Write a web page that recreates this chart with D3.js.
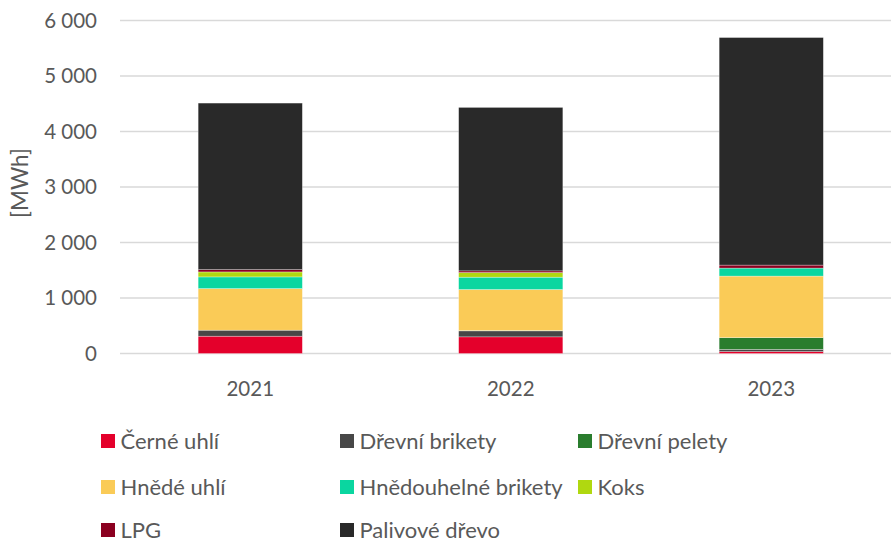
<!DOCTYPE html>
<html>
<head>
<meta charset="utf-8">
<script src="https://cdn.jsdelivr.net/npm/d3@7"></script>
<style>
  body { margin: 0; background: #fff; }
  text { font-family: Lato, "Noto Sans", sans-serif; fill: #595959; }
</style>
</head>
<body>
<svg id="chart" width="891" height="543"></svg>
<script>
const years = ["2021", "2022", "2023"];
const fuels = ["Černé uhlí", "Dřevní brikety", "Dřevní pelety", "Hnědé uhlí",
  "Hnědouhelné brikety", "Koks", "LPG", "Palivové dřevo"];
const cerneUhli = [312, 300, 35];
const drevniBrikety = [108, 108, 40];
const drevniPelety = [0, 5, 210];
const hnedeUhli = [750, 740, 1110];
const hnedouhelneBrikety = [210, 222, 144];
const koks = [90, 84, 0];
const lpg = [42, 30, 54];
const palivoveDrevo = [3000, 2945, 4100];
const yTicks = [0, 1000, 2000, 3000, 4000, 5000, 6000];

const seriesValues = [cerneUhli, drevniBrikety, drevniPelety, hnedeUhli,
  hnedouhelneBrikety, koks, lpg, palivoveDrevo];

const colors = ["#e4002b", "#474747", "#2a7d2e", "#facb57",
  "#0ad6a0", "#b0d810", "#8b0020", "#292929"];

const rows = years.map(function(y, i) {
  const r = { year: y };
  fuels.forEach((f, j) => (r[f] = seriesValues[j][i]));
  return r;
});

const svg = d3.select("#chart");

const x = d3.scaleBand().domain(years).range([120, 901.5]).paddingInner(0.6).paddingOuter(0.3);
const y = d3.scaleLinear().domain([0, 6000]).range([353.5, 20.5]);
const color = d3.scaleOrdinal().domain(fuels).range(colors);
const fmt = v => d3.format(",")(v).replace(/,/g, "\u00a0");

// gridlines
svg.append("g")
  .selectAll("line")
  .data(yTicks)
  .enter()
  .append("line")
  .attr("x1", 120)
  .attr("x2", 891)
  .attr("y1", d => y(d))
  .attr("y2", d => y(d))
  .attr("stroke", "#d9d9d9")
  .attr("stroke-width", 1.3);

// y axis labels
const yAxis = svg.append("g")
  .attr("transform", "translate(97,0)")
  .call(d3.axisLeft(y).tickValues(yTicks).tickFormat(fmt).tickSize(0).tickPadding(0));
yAxis.select(".domain").remove();
yAxis.selectAll("text").attr("font-size", 20.5).attr("fill", "#595959")
  .attr("font-family", "Lato, sans-serif");

svg.append("text")
  .attr("transform", "translate(28,183) rotate(-90)")
  .attr("text-anchor", "middle")
  .attr("font-size", 22.5)
  .text("[MWh]");

// stacked bars
const stacked = d3.stack().keys(fuels)(rows);
svg.append("g")
  .selectAll("g")
  .data(stacked)
  .enter()
  .append("g")
  .attr("fill", d => color(d.key))
  .selectAll("rect")
  .data(d => d)
  .enter()
  .append("rect")
  .attr("x", d => x(d.data.year))
  .attr("width", x.bandwidth())
  .attr("y", d => y(d[1]))
  .attr("height", d => Math.max(0, y(d[0]) - y(d[1])))
  .attr("stroke", "rgba(255,255,255,0.5)")
  .attr("stroke-width", 0.6);

// x axis labels
const xAxis = svg.append("g")
  .attr("transform", "translate(0,381)")
  .call(d3.axisBottom(x).tickSize(0).tickPadding(0));
xAxis.select(".domain").remove();
xAxis.selectAll("text").attr("font-size", 20.5).attr("fill", "#595959")
  .attr("font-family", "Lato, sans-serif");

// legend
const legendX = [101, 340, 578];
const legendY = [441, 487, 530];
const legend = svg.append("g")
  .selectAll("g")
  .data(fuels)
  .enter()
  .append("g")
  .attr("transform", (d, i) => "translate(" + legendX[i % 3] + "," + legendY[Math.floor(i / 3)] + ")");
legend.append("rect")
  .attr("x", 0)
  .attr("y", -7)
  .attr("width", 14)
  .attr("height", 14)
  .attr("fill", d => color(d));
legend.append("text")
  .attr("x", 19.5)
  .attr("dy", "0.35em")
  .attr("font-size", 22)
  .text(d => d);
</script>
</body>
</html>
